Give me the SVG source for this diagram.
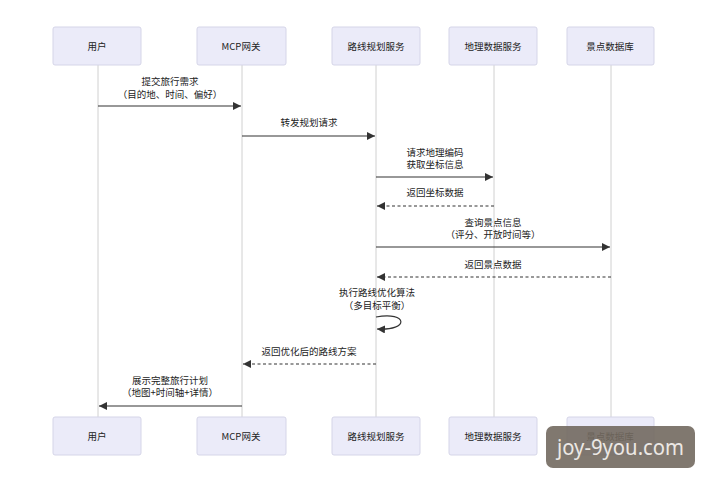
<svg xmlns="http://www.w3.org/2000/svg" width="727" height="500" viewBox="0 0 727 500">
<style>
.box{fill:#ebebf9;stroke:#d5d5e8;stroke-width:1}
.lbl{font-family:"Noto Sans CJK SC","Noto Sans",sans-serif;font-size:9.5px;fill:#222;text-anchor:middle}
.life{stroke:#d0d0d0;stroke-width:1}
.msg{stroke:#333;stroke-width:1.2;fill:none}
.dash{stroke-dasharray:3,2.5}
</style>
<defs>
<marker id="ah" viewBox="0 0 10 10" refX="10" refY="5" markerWidth="8" markerHeight="8" orient="auto" markerUnits="userSpaceOnUse">
<path d="M0,0 L10,5 L0,10 z" fill="#333"/>
</marker>
</defs>
<rect width="727" height="500" fill="#fff"/>
<g id="lifelines">
<line class="life" x1="98" y1="65" x2="98" y2="417"/>
<line class="life" x1="242" y1="65" x2="242" y2="417"/>
<line class="life" x1="376" y1="65" x2="376" y2="417"/>
<line class="life" x1="494" y1="65" x2="494" y2="417"/>
<line class="life" x1="611" y1="65" x2="611" y2="417"/>
</g>
<g id="user-top"><rect class="box" x="53" y="27" width="88" height="38" rx="2"/><text class="lbl" x="97" y="49.5">用户</text></g>
<g id="mcp-top"><rect class="box" x="197" y="27" width="89" height="38" rx="2"/><text class="lbl" x="241" y="49.5">MCP网关</text></g>
<g id="route-top"><rect class="box" x="332" y="27" width="88" height="38" rx="2"/><text class="lbl" x="376" y="49.5">路线规划服务</text></g>
<g id="geo-top"><rect class="box" x="449" y="27" width="88" height="38" rx="2"/><text class="lbl" x="493" y="49.5">地理数据服务</text></g>
<g id="poi-top"><rect class="box" x="567" y="27" width="87" height="38" rx="2"/><text class="lbl" x="610" y="49.5">景点数据库</text></g>
<g id="user-bottom"><rect class="box" x="53" y="417" width="88" height="38" rx="2"/><text class="lbl" x="97" y="439.5">用户</text></g>
<g id="mcp-bottom"><rect class="box" x="197" y="417" width="89" height="38" rx="2"/><text class="lbl" x="241" y="439.5">MCP网关</text></g>
<g id="route-bottom"><rect class="box" x="332" y="417" width="88" height="38" rx="2"/><text class="lbl" x="376" y="439.5">路线规划服务</text></g>
<g id="geo-bottom"><rect class="box" x="449" y="417" width="88" height="38" rx="2"/><text class="lbl" x="493" y="439.5">地理数据服务</text></g>
<g id="poi-bottom"><rect class="box" x="567" y="417" width="87" height="38" rx="2"/><text class="lbl" x="610" y="439.5">景点数据库</text></g>
<g id="connectors">
<line class="msg" x1="98" y1="106" x2="241" y2="106" marker-end="url(#ah)"/>
<line class="msg" x1="242" y1="136" x2="375" y2="136" marker-end="url(#ah)"/>
<line class="msg" x1="376" y1="177" x2="493" y2="177" marker-end="url(#ah)"/>
<line class="msg dash" x1="494" y1="206" x2="377" y2="206" marker-end="url(#ah)"/>
<line class="msg" x1="376" y1="247" x2="610" y2="247" marker-end="url(#ah)"/>
<line class="msg dash" x1="611" y1="277" x2="377" y2="277" marker-end="url(#ah)"/>
<path class="msg" d="M376,317 C408,311 410,331 377,329" marker-end="url(#ah)"/>
<line class="msg dash" x1="376" y1="364" x2="243" y2="364" marker-end="url(#ah)"/>
<line class="msg" x1="242" y1="406" x2="99" y2="406" marker-end="url(#ah)"/>
</g>
<g id="labels">
<text class="lbl" x="170" y="85">提交旅行需求</text>
<text class="lbl" x="170" y="97.5">（目的地、时间、偏好）</text>
<text class="lbl" x="309" y="126">转发规划请求</text>
<text class="lbl" x="435" y="155.5">请求地理编码</text>
<text class="lbl" x="435" y="168">获取坐标信息</text>
<text class="lbl" x="435" y="196">返回坐标数据</text>
<text class="lbl" x="493" y="225.5">查询景点信息</text>
<text class="lbl" x="493" y="238">（评分、开放时间等）</text>
<text class="lbl" x="493" y="268">返回景点数据</text>
<text class="lbl" x="377" y="296">执行路线优化算法</text>
<text class="lbl" x="377" y="308.5">（多目标平衡）</text>
<text class="lbl" x="309" y="355">返回优化后的路线方案</text>
<text class="lbl" x="170" y="383.5">展示完整旅行计划</text>
<text class="lbl" x="170" y="396">（地图+时间轴+详情）</text>
</g>
<g id="watermark">
<rect x="546" y="426" width="149" height="42" rx="7" fill="#72695f" fill-opacity="0.9"/>
<text x="620.5" y="455" font-family="Noto Sans, sans-serif" font-size="21" fill="#ece8e4" text-anchor="middle" textLength="127" lengthAdjust="spacingAndGlyphs">joy-9you.com</text>
</g>
</svg>
